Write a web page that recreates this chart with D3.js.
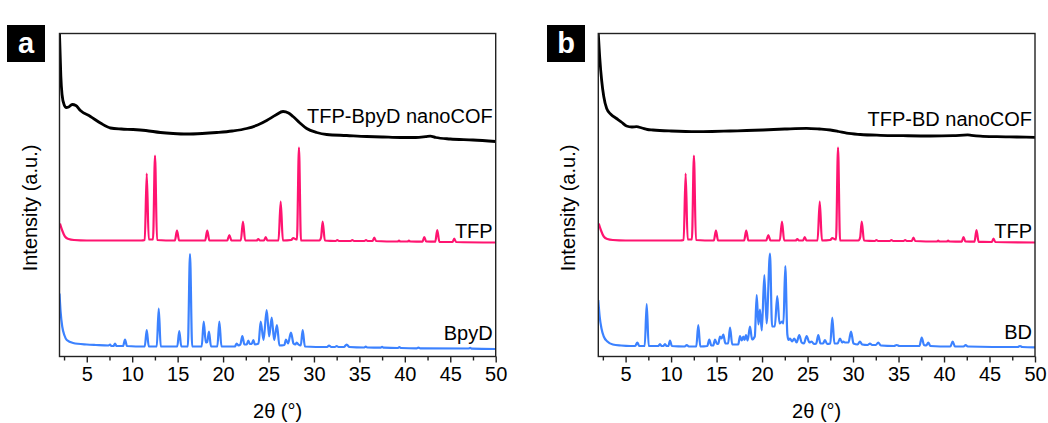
<!DOCTYPE html>
<html>
<head>
<meta charset="utf-8">
<script src="https://cdn.jsdelivr.net/npm/d3@7"></script>
<style>
  body { margin: 0; background: #fff; }
  text { font-family: "Liberation Sans", Arial, sans-serif; fill: #000; }
</style>
</head>
<body>
<div class="canvas"></div>
<script>
// x tick values (2 theta, degrees)
const xTicks = [2.5, 5, 7.5, 10, 12.5, 15, 17.5, 20, 22.5, 25, 27.5, 30, 32.5, 35, 37.5, 40, 42.5, 45, 47.5, 50];

// TFP-BpyD nanoCOF pattern [2theta, intensity]
const cofA = [
  [2.0, 323], [2.08, 300], [2.15, 280], [2.28, 262], [2.5, 252], [2.75, 249], [3.0, 249.5],
  [3.4, 252], [3.8, 251], [4.3, 246], [5.4, 240], [6.5, 233.5], [7.6, 228.5], [8.8, 227.5],
  [10.1, 227], [11.5, 226], [13.1, 224], [14.5, 223], [16.0, 222.5], [17.7, 223], [19.3, 224],
  [21.0, 225.5], [22.6, 228], [23.8, 231.5], [24.8, 236], [25.8, 241.5], [26.6, 245],
  [27.2, 243.5], [27.7, 240], [28.4, 234], [29.2, 228], [30.3, 224], [31.4, 222], [33.6, 221],
  [35.8, 220], [37.6, 219.5], [39.5, 219], [41.2, 219], [42.3, 219.8], [42.8, 220.3],
  [43.4, 219], [45.0, 217.5], [47.5, 216.5], [50, 215]
];

// TFP-BD nanoCOF pattern
const cofB = [
  [2.0, 323], [2.15, 300], [2.37, 276], [2.6, 260], [2.92, 248], [3.4, 242], [4.0, 238],
  [4.6, 234], [5.1, 230.5], [5.7, 229.5], [6.2, 229.8], [6.8, 228.5], [7.4, 227], [8.0, 226.5],
  [10, 225.5], [12.8, 224.8], [14.5, 225], [16.5, 225.5], [18.3, 226], [20.1, 226.5],
  [22.5, 227.5], [24.9, 228.2], [26.3, 227.5], [27.5, 226.5], [28.4, 225], [29.3, 223.3],
  [30.8, 222], [33, 221.2], [35.5, 220.8], [38.5, 220.5], [41, 220.8], [42.6, 221.6],
  [43, 221.2], [44, 220.4], [45.8, 219.8], [48, 219.5], [50, 219.2]
];

// TFP monomer pattern (same in both panels)
const tfp = [
  [2.05, 133], [2.3, 126], [2.6, 120], [3.0, 117.5], [3.6, 116.5], [5, 116], [8, 116], [11.0, 116],
  [11.38, 116.5], [11.6, 183], [11.82, 117], [12.29, 117], [12.51, 201], [12.73, 116.5],
  [14.7, 116], [14.93, 126], [15.16, 116], [18.03, 116], [18.26, 126], [18.49, 116],
  [20.46, 116], [20.69, 121.5], [20.92, 116], [21.95, 116], [22.19, 135], [22.43, 116],
  [23.7, 116], [23.88, 117.5], [24.05, 116], [24.5, 116], [24.69, 119.5], [24.88, 116],
  [26.1, 116], [26.34, 155], [26.58, 116], [27.5, 116.5], [27.73, 118.5], [27.95, 117.5],
  [28.13, 117], [28.35, 209], [28.57, 116], [30.6, 116], [30.78, 119], [30.96, 135], [31.2, 116],
  [32.4, 115.5], [32.57, 116.5], [32.75, 115.5], [34.05, 115.5], [34.22, 116.5], [34.4, 115.5],
  [35.55, 115.5], [35.73, 116.5], [35.9, 115.5], [36.45, 115.5], [36.64, 119], [36.83, 115.5],
  [39.2, 115], [39.36, 115.8], [39.5, 115], [40.3, 115], [40.45, 115.8], [40.6, 115],
  [41.95, 114.8], [42.14, 119.5], [42.35, 115], [43.35, 114.8], [43.57, 126.5], [43.8, 114.6],
  [45.25, 114.5], [45.44, 118], [45.63, 114.5], [50, 114]
];

// BpyD monomer pattern
const bpyd = [
  [2.0, 63], [2.12, 45], [2.3, 30], [2.55, 21], [2.8, 16.5], [3.5, 13.5], [5, 12], [6, 11.5],
  [7.4, 11], [7.56, 12], [7.7, 10.5], [7.95, 10.5], [8.11, 13], [8.27, 10.5],
  [9.0, 10.5], [9.21, 17], [9.42, 10.5], [11.38, 10], [11.6, 26.5], [11.82, 10],
  [12.7, 10], [12.92, 48], [13.14, 10], [14.96, 10], [15.18, 25.5], [15.4, 10],
  [16.12, 10], [16.36, 102.5], [16.6, 10], [17.65, 10], [17.87, 35], [18.1, 14], [18.25, 14.5],
  [18.45, 25], [18.67, 10], [19.37, 10], [19.59, 35], [19.82, 10],
  [21.3, 10], [21.5, 13], [21.7, 11], [21.9, 12], [22.12, 20.5], [22.35, 12], [22.6, 12],
  [22.78, 16], [22.95, 12.5], [23.15, 12.5], [23.33, 16.5], [23.5, 12], [23.9, 13], [24.14, 35],
  [24.45, 16.5], [24.8, 46.5], [25.07, 20], [25.35, 39], [25.62, 16.5], [25.93, 31.5], [26.2, 11],
  [26.75, 11.5], [26.92, 17], [27.15, 13], [27.47, 24], [27.75, 13], [27.95, 12], [28.1, 14],
  [28.3, 12], [28.55, 11], [28.76, 26.5], [29.0, 10], [31.45, 9.5], [31.66, 11], [31.9, 9.5],
  [32.3, 9.5], [32.5, 10.5], [32.7, 9.5], [33.3, 9.5], [33.6, 12], [33.9, 9.5],
  [35.5, 9], [35.7, 9.8], [35.9, 9], [37.3, 8.8], [37.5, 9.6], [37.7, 8.8],
  [39.2, 8.5], [39.4, 9.3], [39.6, 8.5], [41.3, 8.2], [41.5, 8.9], [41.7, 8.2],
  [47, 8], [47.2, 8.6], [47.4, 7.8], [50, 7.5]
];

// BD monomer pattern
const bd = [
  [2.0, 56.5], [2.15, 40], [2.35, 28], [2.6, 20], [3.0, 15], [3.6, 12], [4.5, 11], [5.5, 10.5],
  [6.05, 10.5], [6.29, 14], [6.5, 10.5], [7.1, 10.5], [7.32, 52.5], [7.54, 10.5],
  [8.6, 10.5], [8.78, 12.5], [8.95, 10.5], [9.15, 10.5], [9.33, 12.5], [9.5, 10.5],
  [9.7, 10.5], [9.88, 16], [10.08, 10.5], [11.5, 10], [11.72, 11.5], [11.95, 10],
  [12.77, 10], [12.99, 31.5], [13.21, 10], [13.98, 10.5], [14.2, 17], [14.42, 11], [14.63, 11],
  [14.83, 17], [15.05, 12.5], [15.2, 13], [15.38, 20], [15.55, 18], [15.74, 22], [15.97, 13],
  [16.27, 13], [16.48, 29], [16.72, 12], [17.38, 12], [17.58, 20.5], [17.76, 16], [17.94, 20],
  [18.08, 16.5], [18.23, 21.5], [18.42, 16], [18.67, 30], [18.9, 17], [19.2, 20], [19.41, 61.5],
  [19.6, 32], [19.77, 47], [19.97, 26], [20.25, 81.5], [20.5, 33], [20.87, 103], [21.1, 30],
  [21.4, 30], [21.67, 60.5], [21.92, 33], [22.22, 35], [22.35, 33], [22.55, 90.5], [22.78, 22],
  [22.92, 16.5], [23.07, 18], [23.3, 15], [23.54, 18], [23.8, 14], [24.09, 21.5], [24.35, 14],
  [24.6, 13], [24.9, 20.5], [25.2, 14], [25.45, 15], [25.7, 12.5], [25.95, 13], [26.18, 21.5],
  [26.42, 13], [26.7, 13], [26.92, 16.5], [27.15, 12.5], [27.5, 13], [27.72, 39], [27.95, 13],
  [28.3, 13], [28.57, 18], [28.8, 14], [28.93, 15], [29.1, 14], [29.5, 14], [29.78, 25],
  [30.05, 13], [30.5, 12], [30.76, 15], [31.0, 12], [31.6, 11.5], [31.86, 13], [32.1, 11.5],
  [32.5, 11.5], [32.77, 14], [33.05, 11], [34.5, 10.5], [34.8, 11.5], [35.1, 10.5],
  [37.3, 10.5], [37.55, 19], [37.8, 11.5], [38.05, 11], [38.27, 14], [38.5, 10.5],
  [40.7, 10], [40.95, 15], [41.2, 10], [42.15, 10], [42.38, 11.5], [42.6, 10],
  [48.1, 9.5], [48.35, 10.5], [48.6, 9.5], [50, 9.2]
];

const width = 1048;
const height = 423;

const svg = d3
  .select(".canvas")
  .append("svg")
  .attr("width", width)
  .attr("height", height);

const panels = [
  {
    tag: "a", left: 59.5, right: 495.7, tagX: 7,
    series: [
      { data: cofA, color: "#000", w: 2.8, label: "TFP-BpyD nanoCOF", ly: 233.5 },
      { data: tfp, color: "#ff1470", w: 2.2, label: "TFP", ly: 118.5 },
      { data: bpyd, color: "#3c82ff", w: 2.2, label: "BpyD", ly: 16.5 }
    ]
  },
  {
    tag: "b", left: 598.3, right: 1035, tagX: 547,
    series: [
      { data: cofB, color: "#000", w: 2.8, label: "TFP-BD nanoCOF", ly: 230.5 },
      { data: tfp, color: "#ff1470", w: 2.2, label: "TFP", ly: 118.5 },
      { data: bd, color: "#3c82ff", w: 2.2, label: "BD", ly: 17.5 }
    ]
  }
];

const plotTop = 33.5;
const plotBottom = 356.5;
const fontSize = 20;

panels.forEach((p, idx) => {
  const x = d3.scaleLinear().domain([2, 50]).range([p.left, p.right]);
  const y = d3.scaleLinear().domain([0, 323]).range([plotBottom, plotTop]);

  const g = svg.append("g");

  // clip
  svg
    .append("clipPath")
    .attr("id", "clip" + idx)
    .append("rect")
    .attr("x", p.left)
    .attr("y", plotTop)
    .attr("width", p.right - p.left)
    .attr("height", plotBottom - plotTop);

  const line = d3
    .line()
    .curve(d3.curveMonotoneX)
    .x((d) => x(d[0]))
    .y((d) => y(d[1]));

  p.series.forEach((s) => {
    g.append("path")
      .datum(s.data)
      .attr("clip-path", `url(#clip${idx})`)
      .attr("fill", "none")
      .attr("stroke", s.color)
      .attr("stroke-width", s.w)
      .attr("stroke-linejoin", "round")
      .attr("d", line);

    g.append("text")
      .attr("x", p.right - 3)
      .attr("y", y(s.ly))
      .attr("text-anchor", "end")
      .attr("font-size", fontSize)
      .text(s.label);
  });

  // frame
  g.append("rect")
    .attr("x", p.left)
    .attr("y", plotTop)
    .attr("width", p.right - p.left)
    .attr("height", plotBottom - plotTop)
    .attr("fill", "none")
    .attr("stroke", "#222")
    .attr("stroke-width", 1.4);

  // x axis
  const xAxis = d3
    .axisBottom(x)
    .tickValues(xTicks)
    .tickSize(6)
    .tickPadding(4)
    .tickFormat((d) => (d % 5 === 0 ? d : ""));

  const xAxisGroup = g
    .append("g")
    .attr("transform", `translate(0, ${plotBottom})`)
    .call(xAxis);

  xAxisGroup.select(".domain").remove();
  xAxisGroup.selectAll("line").attr("stroke", "#222").attr("stroke-width", 1.4);
  xAxisGroup
    .selectAll(".tick")
    .filter((d) => d % 5 !== 0)
    .select("line")
    .attr("y2", 4);
  xAxisGroup
    .selectAll("text")
    .attr("font-size", fontSize)
    .attr("font-family", '"Liberation Sans", Arial, sans-serif')
    .attr("fill", "#000");

  // axis titles
  g.append("text")
    .attr("x", (p.left + p.right) / 2)
    .attr("y", 418)
    .attr("text-anchor", "middle")
    .attr("font-size", fontSize)
    .text("2θ (°)");

  g.append("text")
    .attr("transform", `translate(${p.left - 23}, 208) rotate(-90)`)
    .attr("text-anchor", "middle")
    .attr("font-size", fontSize)
    .text("Intensity (a.u.)");

  // panel tag
  g.append("rect")
    .attr("x", p.tagX)
    .attr("y", 25)
    .attr("width", 38)
    .attr("height", 37)
    .attr("fill", "#000");

  g.append("text")
    .attr("x", p.tagX + 19)
    .attr("y", 53)
    .attr("text-anchor", "middle")
    .attr("font-size", 29)
    .attr("font-weight", "bold")
    .style("fill", "#fff")
    .text(p.tag);
});
</script>
</body>
</html>
